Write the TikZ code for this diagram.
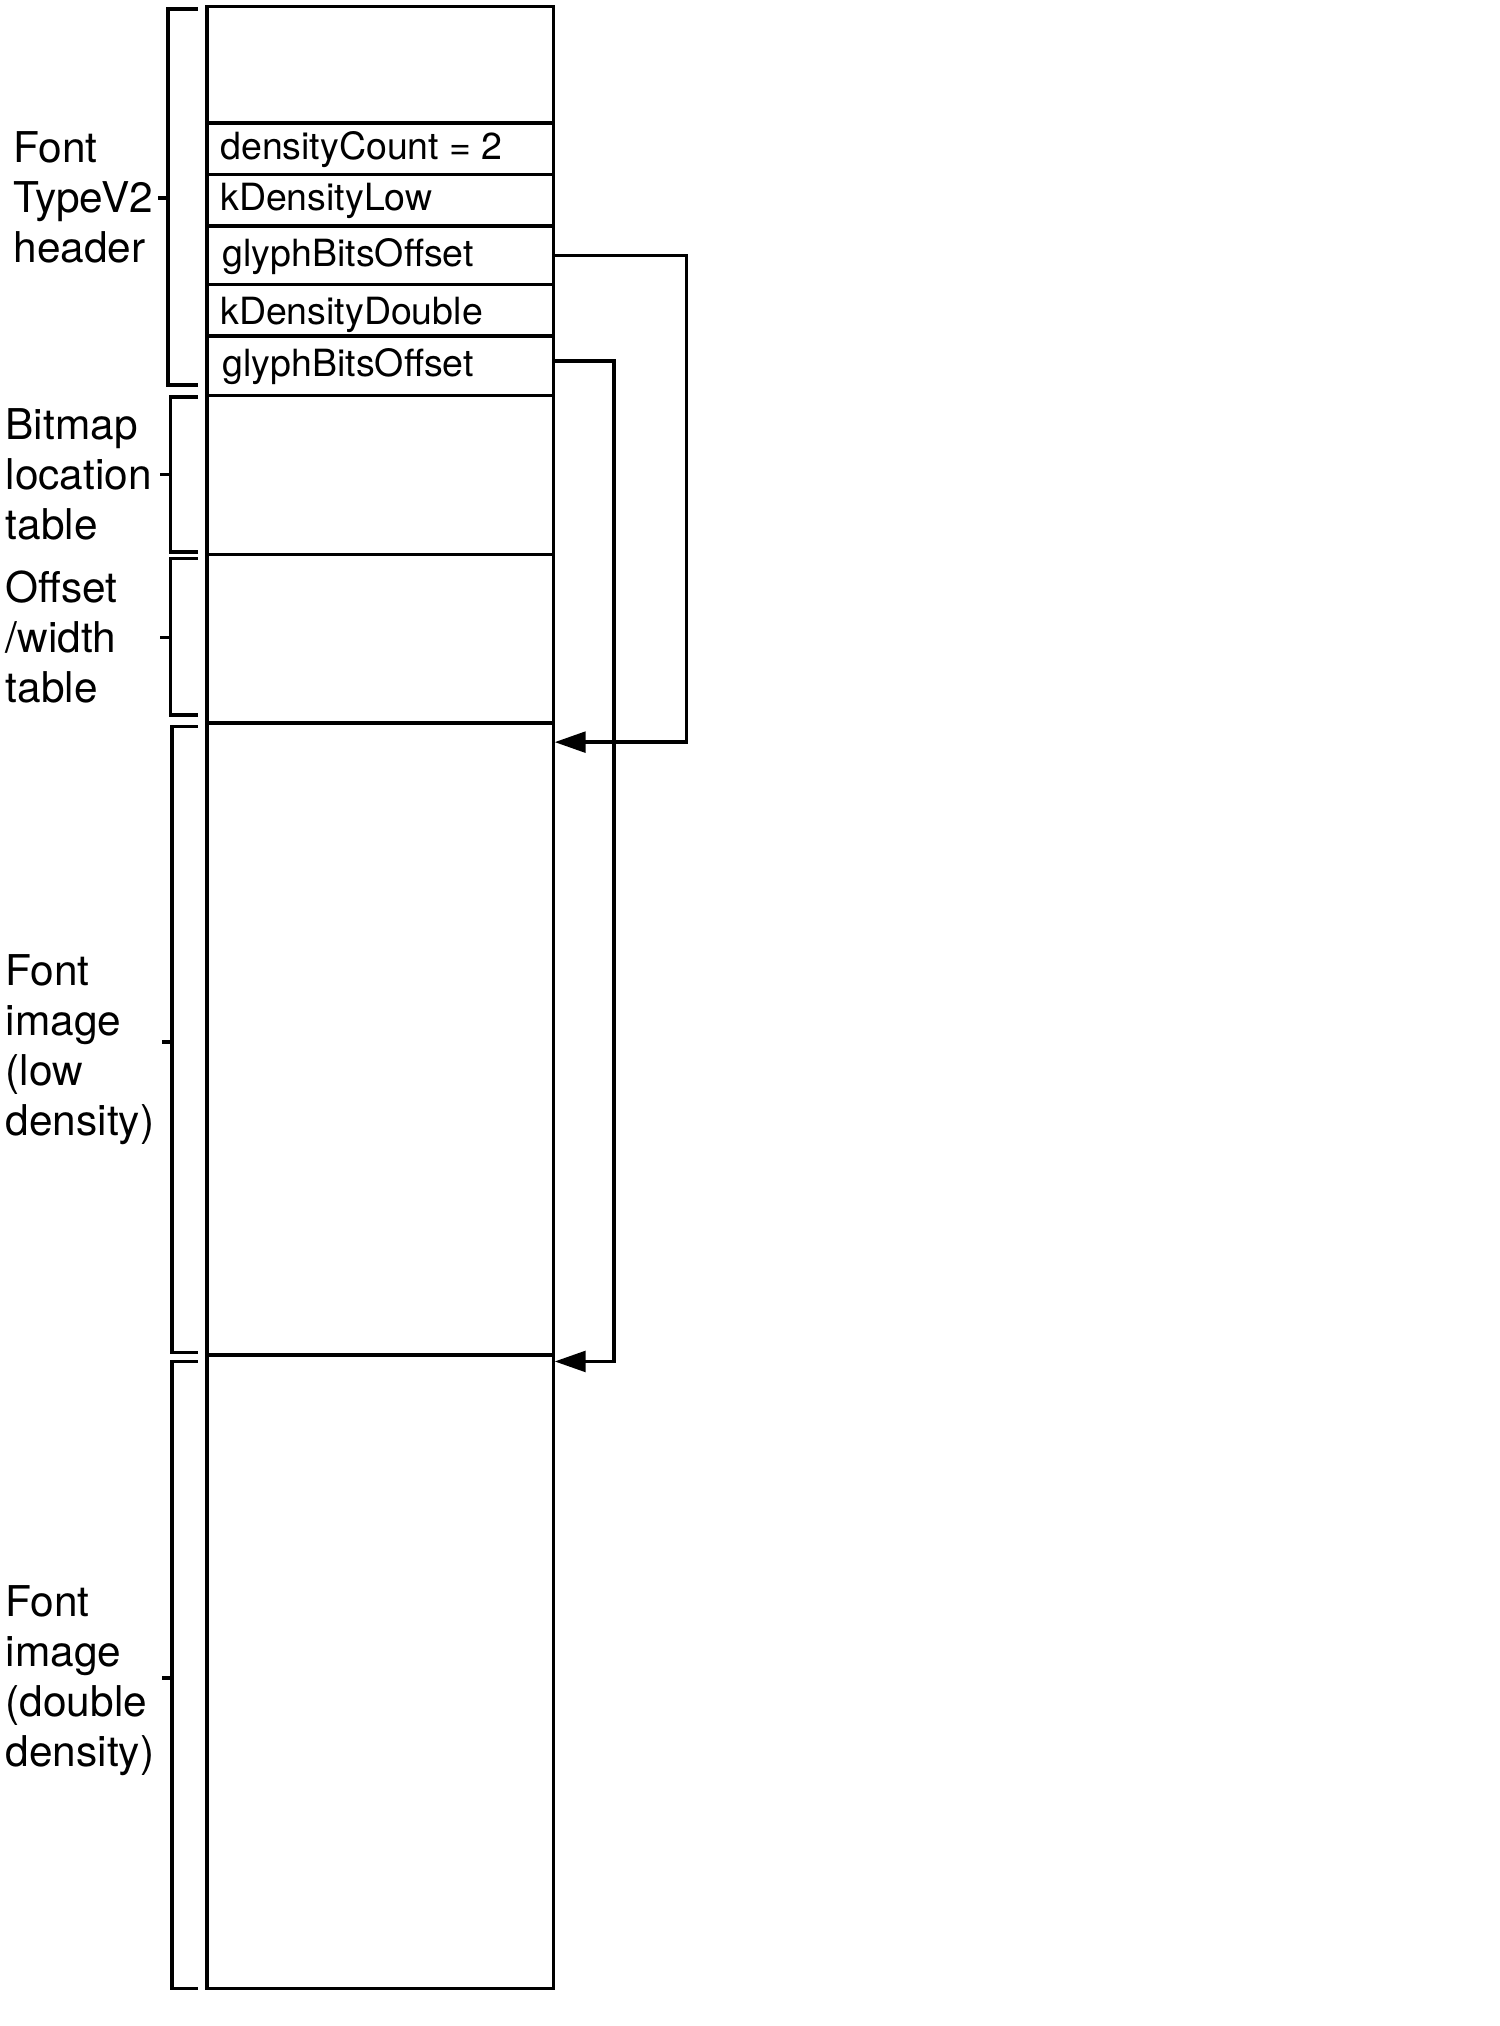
\documentclass[tikz,border=0pt]{standalone}
\usepackage{fontspec}
\setmainfont{TeX Gyre Heros}
\usetikzlibrary{arrows.meta}
\newcommand\stacklbl[1]{\begin{tabular}[t]{@{}l@{}}#1\end{tabular}}
\begin{document}
\begin{tikzpicture}[x=0.5pt,y=-0.5pt,
  cell/.style={draw, line width=1.4pt, rectangle, inner sep=0pt, outer sep=0pt, minimum width=134pt},
  celltxt/.style={anchor=base west, inner sep=0pt, font=\fontsize{14.5}{17}\selectfont},
  sidelbl/.style={anchor=base west, inner sep=0pt, font=\fontsize{16.4}{19.35}\selectfont},
  brk/.style={line width=1.4pt},
  ptr/.style={line width=1.4pt, -{Triangle[length=12pt,width=8pt]}}]
\useasboundingbox (0,0) rectangle (1160,1567);
% memory layout cells
\node[cell, minimum height=45pt]    (hdr)  at (294,50)    {};
\node[cell, minimum height=20pt]    (dc)   at (294,115)   {};
\node[cell, minimum height=20pt]    (kdl)  at (294,155)   {};
\node[cell, minimum height=22.5pt]  (gbo1) at (294,197.5) {};
\node[cell, minimum height=20pt]    (kdd)  at (294,240)   {};
\node[cell, minimum height=23pt]    (gbo2) at (294,283)   {};
\node[cell, minimum height=61.5pt]  (bmp)  at (294,367.5) {};
\node[cell, minimum height=65pt]    (ow)   at (294,494)   {};
\node[cell, minimum height=244.5pt] (low)  at (294,803.5) {};
\node[cell, minimum height=245pt]   (dbl)  at (294,1293)  {};
% cell texts
\node[celltxt] (tdc)   at (170,123)   {densityCount = 2};
\node[celltxt] (tkdl)  at (170,162.5) {kDensityLow};
\node[celltxt] (tgbo1) at (172,206)   {glyphBitsOffset};
\node[celltxt] (tkdd)  at (170,251)   {kDensityDouble};
\node[celltxt] (tgbo2) at (172,291.5) {glyphBitsOffset};
% side labels
\node[sidelbl] (lhdr) at (10,125.5) {\stacklbl{Font\\TypeV2\\header}};
\node[sidelbl] (lbmp) at (4,340)    {\stacklbl{Bitmap\\location\\table}};
\node[sidelbl] (low2) at (4,466)    {\stacklbl{Offset\\/width\\table}};
\node[sidelbl] (llow) at (4,762)    {\stacklbl{Font\\image\\(low\\density)}};
\node[sidelbl] (ldbl) at (4,1250)   {\stacklbl{Font\\image\\(double\\density)}};
% brackets
\draw[brk] (153,7) -- (130,7) -- (130,298) -- (153,298) (130,153) -- (122,153);
\draw[brk] (153,307) -- (132,307) -- (132,427) -- (153,427) (132,367) -- (124,367);
\draw[brk] (153,432) -- (132,432) -- (132,553) -- (153,553) (132,493) -- (124,493);
\draw[brk] (153,562) -- (133,562) -- (133,1046) -- (153,1046) (133,806) -- (125,806);
\draw[brk] (153,1053) -- (133,1053) -- (133,1538) -- (153,1538) (133,1298) -- (125,1298);
% pointers
\coordinate (t1) at (429,574);
\coordinate (t2) at (429,1053);
\draw[ptr] (gbo1.east) -- ++(103,0) |- (t1);
\draw[ptr] ([yshift=2pt]gbo2.east) -- ++(47,0) |- (t2);
\end{tikzpicture}
\end{document}
